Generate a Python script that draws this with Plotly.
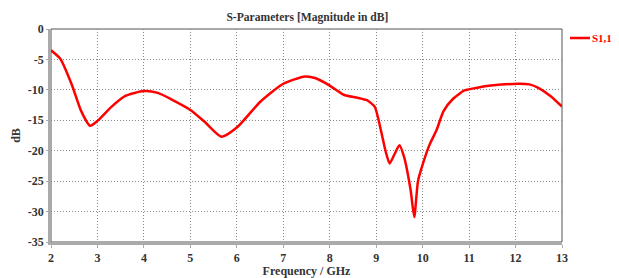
import plotly.graph_objects as go

freq = [2.0, 2.2, 2.45, 2.65, 2.84, 3.0, 3.3, 3.6, 4.0, 4.3, 4.6, 5.0, 5.3, 5.67, 6.0, 6.5, 7.0, 7.47, 7.7, 8.0, 8.3, 8.6, 8.8, 8.97, 9.1, 9.2, 9.29, 9.4, 9.5, 9.6, 9.74, 9.82, 9.9, 10.02, 10.15, 10.3, 10.45, 10.65, 10.9, 11.2, 11.47, 12.05, 12.3, 12.5, 12.75, 13.0]
s11 = [-3.5, -4.9, -9.2, -13.5, -15.9, -15.1, -12.8, -11.0, -10.2, -10.5, -11.6, -13.3, -15.2, -17.7, -16.2, -12.0, -9.0, -7.8, -8.1, -9.3, -10.8, -11.3, -11.7, -12.8, -16.6, -20.0, -22.1, -20.5, -19.1, -21.0, -26.4, -30.9, -25.0, -21.8, -19.0, -16.6, -13.5, -11.5, -10.1, -9.6, -9.3, -9.0, -9.1, -9.7, -11.0, -12.75]
series_name = "S1,1"

x_ticks = list(range(2, 14))
y_ticks = [0, -5, -10, -15, -20, -25, -30, -35]

font = dict(family="Liberation Serif", size=12, color="#333333")

fig = go.Figure()
fig.add_trace(go.Scatter(x=freq, y=s11, mode="lines", name=series_name, showlegend=False,
                         line=dict(color="#ff0000", width=2.5, shape="spline", smoothing=0.6)))

fig.update_layout(
    width=611, height=270,
    margin=dict(l=43, r=57, t=21, b=36, autoexpand=False),
    paper_bgcolor="white", plot_bgcolor="white",
    title=dict(text="<b>S-Parameters [Magnitude in dB]</b>", x=0.490, xanchor="center",
               y=0.967, yanchor="middle", automargin=False,
               font=dict(family="Liberation Serif", size=11.6, color="#333333")),
    font=font,
)
fig.update_xaxes(range=[2, 13], tickvals=x_ticks, ticktext=[f"<b>{v}</b>" for v in x_ticks],
                 showgrid=True, gridcolor="#888888", griddash="1px,2px", gridwidth=1,
                 showline=True, linecolor="#aaaaaa", linewidth=2.5, zeroline=False, automargin=False,
                 ticks="outside", ticklen=3, tickcolor="#aaaaaa", tickwidth=1,
                 title=dict(text="<b>Frequency / GHz</b>", standoff=3,
                            font=dict(family="Liberation Serif", size=12, color="#333333")))
fig.update_yaxes(range=[-35, 0], tickvals=y_ticks, ticktext=[f"<b>{v}</b>" for v in y_ticks],
                 showgrid=True, gridcolor="#888888", griddash="1px,2px", gridwidth=1,
                 showline=True, linecolor="#aaaaaa", linewidth=2.5, zeroline=False, automargin=False,
                 ticks="outside", ticklen=2, tickcolor="#aaaaaa", tickwidth=1,
                 title=dict(text="<b>dB</b>", standoff=5,
                            font=dict(family="Liberation Serif", size=12, color="#333333")))
fig.add_shape(type="rect", xref="paper", yref="paper", x0=0, y0=0, x1=1, y1=1,
              line=dict(color="#555555", width=1), layer="below")
# legend: line sample + label
fig.add_shape(type="line", xref="paper", yref="paper", x0=1.0157, x1=1.0548, y0=0.9577, y1=0.9577,
              line=dict(color="#ff0000", width=2.5))
fig.add_annotation(xref="paper", yref="paper", x=1.0567, y=0.9577, xanchor="left", yanchor="middle",
                   text=f"<b>{series_name}</b>", showarrow=False, borderpad=0,
                   font=dict(family="Liberation Serif", size=11, color="#ff0000"))
fig.write_html("out.html")
